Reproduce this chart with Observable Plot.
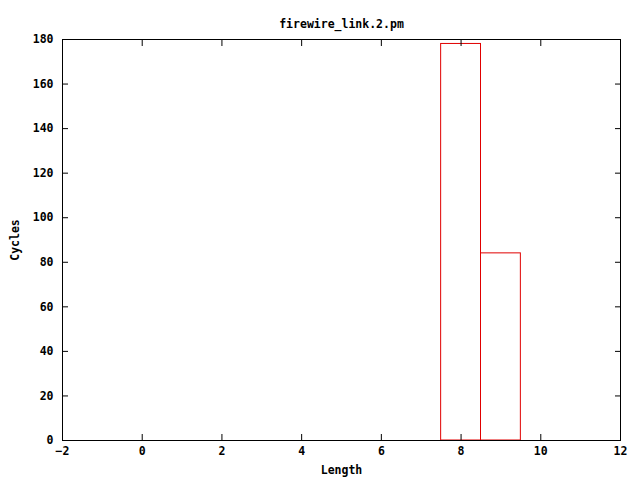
<!DOCTYPE html>
<html>
<head>
<meta charset="utf-8">
<script src="https://cdn.jsdelivr.net/npm/d3@7"></script>
<script src="https://cdn.jsdelivr.net/npm/@observablehq/plot@0.6"></script>
<style>
  html, body { margin: 0; padding: 0; background: #fff; }
  svg { display: block; }
</style>
</head>
<body>
<div id="chart"></div>
<script>
const title = "firewire_link.2.pm";
const xLabel = "Length";
const yLabel = "Cycles";
const lengths = [8, 9];
const cycles = [178, 84];
const xTicks = [-2, 0, 2, 4, 6, 8, 10, 12];
const yTicks = [0, 20, 40, 60, 80, 100, 120, 140, 160, 180];

const data = lengths.map((l, i) => ({x1: l - 0.5, x2: l + 0.5, y: cycles[i]}));
const font = "'DejaVu Sans Mono', monospace";

const chart = Plot.plot({
  width: 640,
  height: 480,
  marginLeft: 62,
  marginRight: 20,
  marginTop: 39,
  marginBottom: 40,
  style: {fontFamily: font, fontSize: "11.5px", fontWeight: "bold", background: "#fff", color: "#000"},
  x: {domain: [-2, 12]},
  y: {domain: [0, 180]},
  marks: [
    Plot.rectY(data, {x1: "x1", x2: "x2", y: "y", fill: "none", stroke: "#e00000", strokeWidth: 1}),
    Plot.frame({stroke: "#000"}),
    Plot.axisX(xTicks, {anchor: "bottom", tickSize: -6, tickFormat: () => "", label: null}),
    Plot.axisX(xTicks, {anchor: "top", tickSize: -6, tickFormat: () => "", label: null}),
    Plot.axisY(yTicks, {anchor: "left", tickSize: -6, tickFormat: () => "", label: null}),
    Plot.axisY(yTicks, {anchor: "right", tickSize: -6, tickFormat: () => "", label: null}),
    Plot.axisX(xTicks, {anchor: "bottom", tickSize: 0, tickPadding: 6, label: null, fontWeight: "bold"}),
    Plot.axisY(yTicks, {anchor: "left", tickSize: 0, tickPadding: 9, label: null, fontWeight: "bold"}),
    Plot.text([title], {frameAnchor: "top", dy: -20, fontWeight: "bold"}),
    Plot.text([xLabel], {frameAnchor: "bottom", dy: 33, fontWeight: "bold"}),
    Plot.text([yLabel], {frameAnchor: "left", dx: -47, rotate: -90, textAnchor: "middle", fontWeight: "bold"})
  ]
});
document.getElementById("chart").appendChild(chart);
</script>
</body>
</html>
